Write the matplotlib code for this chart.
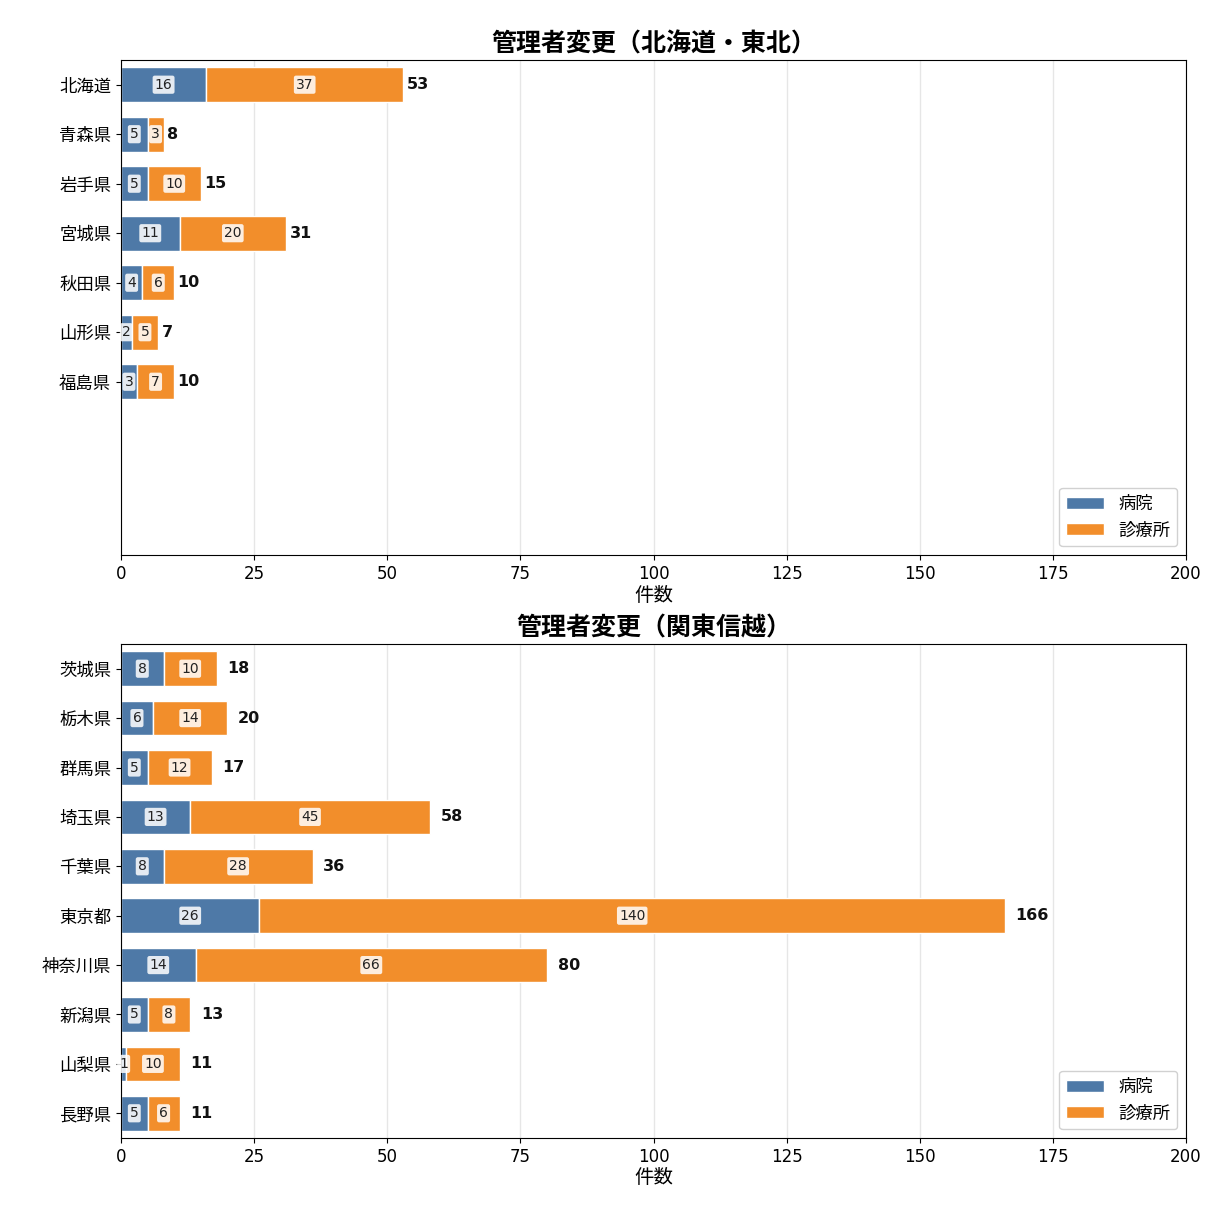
import matplotlib
matplotlib.use("Agg")
import matplotlib.pyplot as plt

plt.rcParams['font.family'] = ['DejaVu Sans', 'Noto Sans CJK JP']

title_top = "管理者変更（北海道・東北）"
prefs_top = ["北海道", "青森県", "岩手県", "宮城県", "秋田県", "山形県", "福島県"]
hosp_top = [16, 5, 5, 11, 4, 2, 3]
clinic_top = [37, 3, 10, 20, 6, 5, 7]

title_bot = "管理者変更（関東信越）"
prefs_bot = ["茨城県", "栃木県", "群馬県", "埼玉県", "千葉県", "東京都", "神奈川県", "新潟県", "山梨県", "長野県"]
hosp_bot = [8, 6, 5, 13, 8, 26, 14, 5, 1, 5]
clinic_bot = [10, 14, 12, 45, 28, 140, 66, 8, 10, 6]

series_names = ["病院", "診療所"]
colors = ["#4e79a7", "#f28e2b"]
xticks = [0, 25, 50, 75, 100, 125, 150, 175, 200]
xlabel = "件数"
nslots = 10

fig = plt.figure(figsize=(12.11, 12.11), dpi=100)
ax1 = fig.add_axes([0.0999, 0.5417, 0.8795, 0.4088])
ax2 = fig.add_axes([0.0999, 0.0603, 0.8795, 0.4079])


def draw(ax, title, prefs, hosp, clinic):
    ys = list(range(len(prefs)))
    ax.barh(ys, hosp, height=0.7, color=colors[0], edgecolor='white', linewidth=1, label=series_names[0], zorder=2)
    ax.barh(ys, clinic, left=hosp, height=0.7, color=colors[1], edgecolor='white', linewidth=1, label=series_names[1], zorder=2)
    totals = [h + c for h, c in zip(hosp, clinic)]
    off = max(totals) * 0.012
    for y, h, c, t in zip(ys, hosp, clinic, totals):
        ax.text(h / 2, y, str(h), ha='center', va='center', fontsize=10, color='#222222', zorder=4,
                bbox=dict(boxstyle='round,pad=0.15', fc='white', ec='none', alpha=0.85))
        ax.text(h + c / 2, y, str(c), ha='center', va='center', fontsize=10, color='#222222', zorder=4,
                bbox=dict(boxstyle='round,pad=0.15', fc='white', ec='none', alpha=0.85))
        ax.text(t + off, y, str(t), ha='left', va='center', fontsize=11.5, fontweight='bold', color='#111111', zorder=4)
    ax.set_yticks(ys)
    ax.set_yticklabels(prefs, fontsize=12.5)
    ax.set_ylim(nslots - 0.5, -0.5)
    ax.set_xlim(0, 200)
    ax.set_xticks(xticks)
    ax.tick_params(axis='x', labelsize=12)
    ax.set_xlabel(xlabel, fontsize=14, labelpad=2)
    ax.set_title(title, fontsize=18, fontweight='bold', pad=6)
    ax.grid(axis='x', color='#e6e6e6', linewidth=1, zorder=0)
    ax.set_axisbelow(True)
    ax.legend(loc='lower right', fontsize=12.5, handlelength=2.2, framealpha=0.9, edgecolor='#cccccc')


draw(ax1, title_top, prefs_top, hosp_top, clinic_top)
draw(ax2, title_bot, prefs_bot, hosp_bot, clinic_bot)

fig.savefig("out.png", dpi=100)
